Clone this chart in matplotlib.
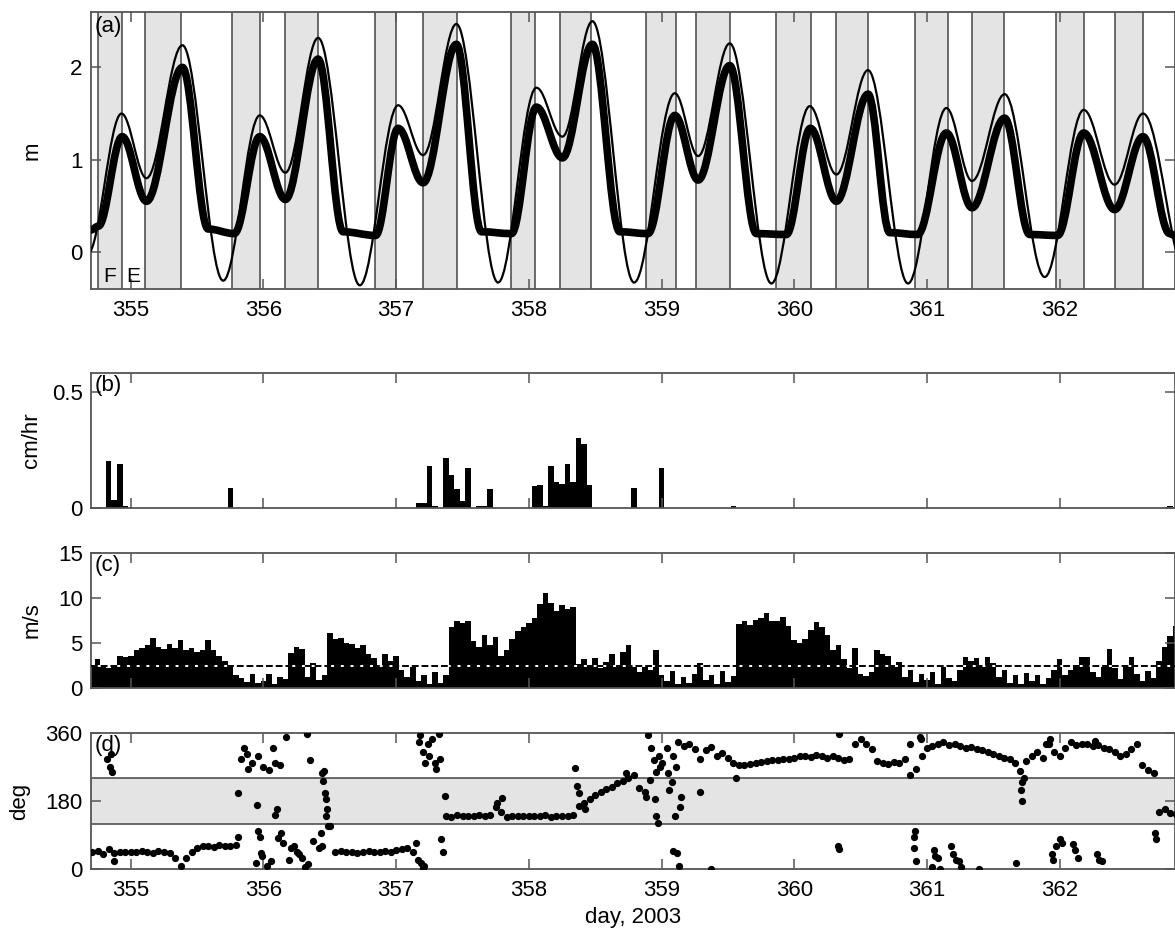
import numpy as np
import matplotlib
matplotlib.use("Agg")
import matplotlib.pyplot as plt
from matplotlib.path import Path
from matplotlib.patches import PathPatch

plt.rcParams['font.family'] = ['Liberation Sans', 'DejaVu Sans']

# ---- (a) water level: highs/lows of predicted and observed tide (day, m)
pred_day = [354.675, 354.930, 355.118, 355.389, 355.696, 355.972, 356.165, 356.412,
            356.726, 357.015, 357.203, 357.454, 357.768, 358.057, 358.253, 358.479,
            358.793, 359.100, 359.276, 359.514, 359.828, 360.117, 360.318, 360.556,
            360.858, 361.147, 361.340, 361.586, 361.888, 362.182, 362.415, 362.629,
            362.970]
pred_m = [-0.02, 1.50, 0.80, 2.24, -0.31, 1.48, 0.86, 2.32,
          -0.36, 1.59, 1.05, 2.47, -0.33, 1.78, 1.25, 2.50,
          -0.33, 1.72, 1.04, 2.26, -0.34, 1.58, 0.84, 1.97,
          -0.34, 1.56, 0.77, 1.71, -0.27, 1.54, 0.73, 1.50,
          -0.30]

# observed level (gauge dries out near 0.2 m at low water)
obs_day = [354.700, 354.755, 354.935, 355.118, 355.389, 355.583, 355.780, 355.972,
           356.165, 356.412, 356.600, 356.845, 357.015, 357.203, 357.454, 357.643,
           357.869, 358.057, 358.253, 358.479, 358.685, 358.898, 359.100, 359.276,
           359.514, 359.715, 359.941, 360.122, 360.318, 360.557, 360.720, 360.930,
           361.147, 361.340, 361.586, 361.775, 361.985, 362.182, 362.415, 362.629,
           362.830, 362.870]
obs_m = [0.24, 0.28, 1.25, 0.55, 2.00, 0.25, 0.20, 1.25,
         0.57, 2.09, 0.22, 0.18, 1.34, 0.75, 2.25, 0.22,
         0.20, 1.57, 1.02, 2.25, 0.22, 0.20, 1.48, 0.78,
         2.02, 0.20, 0.19, 1.34, 0.55, 1.71, 0.21, 0.19,
         1.29, 0.48, 1.45, 0.19, 0.18, 1.29, 0.46, 1.25,
         0.20, 0.18]

# flood periods (shaded)
flood_start = [354.754, 355.106, 355.766, 356.160, 356.839, 357.203, 357.869, 358.238,
               358.886, 359.258, 359.861, 360.318, 360.908, 361.340, 361.976, 362.420]
flood_end = [354.930, 355.382, 355.972, 356.412, 357.002, 357.455, 358.050, 358.472,
             359.107, 359.519, 360.127, 360.557, 361.159, 361.579, 362.182, 362.629]

# ---- (b) hourly rainfall, cm/hr
rain_day = [354.833, 354.875, 354.917, 354.958, 355.750,
            357.167, 357.208, 357.250, 357.292, 357.375, 357.417, 357.458, 357.500,
            357.542, 357.625, 357.667, 357.708,
            358.042, 358.083, 358.125, 358.167, 358.208, 358.250, 358.292, 358.333,
            358.375, 358.417, 358.458, 358.792, 359.000, 359.542, 362.833]
rain_cm = [0.20, 0.035, 0.19, 0.01, 0.085,
           0.02, 0.02, 0.18, 0.01, 0.215, 0.142, 0.083, 0.028,
           0.171, 0.007, 0.007, 0.083,
           0.095, 0.10, 0.01, 0.18, 0.11, 0.105, 0.19, 0.11,
           0.30, 0.276, 0.10, 0.085, 0.17, 0.008, 0.008]

# ---- (c) hourly wind speed, m/s, starting 354 + 17 h
wind_ms = [
    2.4, 3.2, 2.6, 2.2, 2.5, 3.6, 3.4,                                       # 354
    3.6, 4.2, 4.5, 4.8, 5.6, 4.6, 4.3, 4.9, 4.4, 5.3, 4.2, 4.5,
    4.0, 4.2, 5.3, 4.2, 3.6, 3.0, 2.6, 1.5, 1.1, 0.7, 1.6, 0.6,              # 355
    0.8, 1.6, 0.4, 1.2, 1.0, 3.9, 4.6, 4.3, 1.2, 2.8, 0.9, 1.5,
    6.1, 5.4, 5.6, 5.0, 4.9, 4.5, 4.8, 3.8, 3.3, 2.6, 3.8, 3.0,              # 356
    3.6, 2.0, 1.2, 2.3, 0.8, 1.4, 0.5, 1.8, 0.6, 1.5, 6.8, 7.4,
    7.2, 7.4, 5.2, 4.6, 5.9, 4.8, 5.7, 3.6, 4.2, 5.5, 6.3, 6.8,              # 357
    7.2, 7.8, 9.3, 10.6, 9.5, 8.6, 9.2, 8.8, 9.0, 2.7, 3.2, 2.5,
    3.3, 2.2, 2.9, 3.8, 2.6, 4.0, 4.8, 2.3, 1.8, 2.4, 2.0, 4.2,              # 358
    1.5, 0.8, 1.9, 0.4, 1.2, 0.6, 1.6, 2.8, 0.9, 1.4, 0.5, 1.9,
    0.7, 1.3, 7.1, 7.4, 7.0, 7.6, 7.8, 8.3, 7.4, 7.5, 7.9, 6.9,              # 359
    5.3, 5.0, 5.5, 6.4, 7.3, 6.8, 5.9, 4.2, 4.8, 3.2, 2.2, 4.5,
    1.6, 1.3, 1.8, 4.2, 3.8, 3.6, 2.4, 2.9, 1.2, 2.0, 0.7, 1.6,              # 360
    0.9, 1.8, 0.5, 2.4, 1.1, 0.8, 2.0, 3.4, 3.0, 3.3, 2.6, 3.5,
    2.8, 1.2, 2.0, 0.6, 1.4, 0.4, 1.7, 0.8, 1.5, 0.5, 1.1, 2.0,              # 361
    3.2, 1.5, 2.0, 2.6, 3.5, 3.4, 1.8, 1.2, 2.3, 4.3, 2.2, 1.0,
    2.4, 3.5, 1.6, 0.8, 1.9, 1.1, 3.0, 4.6, 5.8, 6.9,                        # 362
]
wind_ref = 2.5

# ---- (d) hourly wind direction, deg, same hours as wind speed
wind_deg = [
    45, 48, 40, 52, 42, 46, 44,
    46, 44, 48, 45, 43, 47, 44, 42, 30, 8, 28, 45,
    55, 60, 62, 58, 64, 62, 60, 64, 290, 305, 280, 300,
    270, 262, 280, 275, 350, 55, 45, 30, 12, 75, 55, 260,
    115, 45, 48, 44, 46, 43, 45, 47, 44, 46, 48, 45,
    50, 52, 55, 45, 25, 8, 300, 280, 290, 140, 138, 142,
    140, 139, 141, 143, 140, 142, 165, 150, 138, 141, 139, 140,
    141, 139, 140, 142, 138, 140, 141, 139, 142, 200, 175, 185,
    195, 205, 212, 218, 228, 232, 240, 250, 215, 205, 235, 258,
    280, 320, 300, 335, 325, 330, 318, 290, 315, 322, 300, 308,
    295, 280, 275, 276, 279, 281, 283, 286, 288, 289, 290, 292,
    295, 298, 300, 296, 302, 298, 295, 300, 293, 288, 290, 330,
    345, 330, 318, 285, 280, 278, 282, 280, 290, 330, 265, 345,
    320, 325, 330, 335, 328, 332, 325, 320, 322, 318, 315, 310,
    305, 300, 295, 290, 280, 210, 285, 300, 310, 295, 330, 310,
    300, 320, 335, 328, 332, 330, 325, 328, 320, 318, 310, 300,
    305, 318, 330, 275, 262, 255, 150, 160, 148, 145,
]
# scattered readings between the hourly ones
extra_day = [354.82, 354.84, 354.85, 354.86, 354.87,
             355.81, 355.81, 355.85, 355.88, 355.95, 355.94, 355.96, 355.97, 355.98, 355.99, 356.03,
             356.06, 356.07, 356.09, 356.10, 356.11, 356.13, 356.15, 356.19, 356.23, 356.27, 356.31,
             356.33, 356.35, 356.43, 356.44, 356.44, 356.45, 356.46, 356.47, 356.47, 356.48, 356.49,
             357.15, 357.17, 357.18, 357.19, 357.20, 357.20, 357.22, 357.24, 357.27, 357.30, 357.32,
             357.34, 357.35, 357.37, 357.76, 357.80,
             358.35, 358.36, 358.38, 358.42, 358.73, 358.88, 358.90, 358.92, 358.94, 358.95, 358.96,
             358.97, 358.98, 358.99,
             359.05, 359.06, 359.08, 359.09, 359.10, 359.11, 359.12, 359.13, 359.14, 359.15, 359.29,
             359.37, 359.56,
             360.33, 360.34, 360.34, 360.87, 360.90, 360.90, 360.91, 360.92, 360.95, 360.96,
             361.04, 361.05, 361.06, 361.08, 361.10, 361.18, 361.20, 361.22, 361.24, 361.26, 361.39,
             361.67, 361.70, 361.72, 361.72, 361.73,
             361.90, 361.93, 361.94, 361.95, 361.97, 362.00, 362.02, 362.10, 362.12, 362.14, 362.27,
             362.28, 362.30, 362.32, 362.72, 362.73]
extra_deg = [290, 270, 305, 258, 20,
             201, 86, 320, 265, 170, 16, 100, 86, 42, 34, 8,
             20, 320, 144, 160, 82, 95, 70, 25, 60, 40, 5,
             358, 289, 95, 60, 254, 232, 200, 185, 139, 160, 115,
             70, 335, 355, 15, 3, 310, 280, 330, 345, 265, 358,
             80, 45, 192, 175, 188,
             267, 219, 166, 158, 255, 190, 355, 320, 289, 184, 140,
             122, 300, 270,
             255, 210, 230, 47, 140, 270, 42, 7, 165, 190, 205,
             0, 241,
             60, 52, 357, 250, 85, 55, 100, 20, 350, 300,
             5, 50, 35, 30, 0, 60, 40, 25, 20, 5, 0,
             16, 260, 230, 180, 240,
             330, 345, 40, 25, 60, 80, 70, 65, 50, 30, 340,
             40, 25, 20, 95, 80]

day_ticks = [355, 356, 357, 358, 359, 360, 361, 362]
xlim = (354.70, 362.87)

hour0 = 354 + 17 / 24
wind_day = hour0 + np.arange(len(wind_ms)) / 24
dir_day = hour0 + np.arange(len(wind_deg)) / 24

SHADE = '#e4e4e4'
FRAME = '#555555'


def tide_path(days, heights, k=0.36):
    # smooth curve through successive highs and lows (flat at each turning point)
    verts = [(days[0], heights[0])]
    codes = [Path.MOVETO]
    for t0, h0, t1, h1 in zip(days[:-1], heights[:-1], days[1:], heights[1:]):
        dt = t1 - t0
        verts += [(t0 + k * dt, h0), (t1 - k * dt, h1), (t1, h1)]
        codes += [Path.CURVE4] * 3
    return Path(verts, codes)


def style(ax, yticks, ylim, ylabel, tag, labels=False, yfmt=None):
    ax.set_xlim(*xlim)
    ax.set_ylim(*ylim)
    ax.set_xticks(day_ticks)
    ax.set_yticks(yticks)
    if yfmt is not None:
        ax.set_yticklabels(yfmt)
    ax.tick_params(direction='in', top=True, right=True, length=7, width=1.1,
                   color=FRAME, labelsize=16, pad=6)
    ax.tick_params(axis='x', pad=8)
    if not labels:
        ax.tick_params(axis='x', labelbottom=False)
    for s in ax.spines.values():
        s.set_color(FRAME)
        s.set_linewidth(1.3)
    ax.set_ylabel(ylabel, fontsize=16)
    ax.text(0.003, 0.985, tag, transform=ax.transAxes, ha='left', va='top',
            fontsize=16, zorder=10)


fig = plt.figure(figsize=(11.75, 9.33), dpi=100)
W, H = 1175, 933
left = 91 / W
width = 1 - left
ax_a = fig.add_axes([left, 1 - 289 / H, width, (289 - 12) / H])
ax_b = fig.add_axes([left, 1 - 508 / H, width, (508 - 373) / H])
ax_c = fig.add_axes([left, 1 - 688 / H, width, (688 - 553) / H])
ax_d = fig.add_axes([left, 1 - 869 / H, width, (869 - 733) / H])

# (a) tide
for t0, t1 in zip(flood_start, flood_end):
    ax_a.axvspan(t0, t1, color=SHADE, lw=0, zorder=0)
for t in flood_start + flood_end:
    ax_a.axvline(t, color='#444444', lw=1.1, zorder=1)
ax_a.add_patch(PathPatch(tide_path(obs_day, obs_m), fill=False, ec='k', lw=5.5,
                         joinstyle='round', capstyle='round', zorder=3))
ax_a.add_patch(PathPatch(tide_path(pred_day, pred_m), fill=False, ec='k', lw=1.6,
                         zorder=4))
ax_a.text(354.842, -0.26, 'F', ha='center', va='center', fontsize=15)
ax_a.text(355.018, -0.26, 'E', ha='center', va='center', fontsize=15)
style(ax_a, [0, 1, 2], (-0.4, 2.6), 'm', '(a)', labels=True)

# (b) rainfall
ax_b.bar(rain_day, rain_cm, width=1 / 24, color='k', lw=0)
style(ax_b, [0, 0.5], (0, 0.58), 'cm/hr', '(b)', yfmt=['0', '0.5'])

# (c) wind speed
ax_c.bar(wind_day, wind_ms, width=1 / 24, color='k', lw=0)
ax_c.axhline(wind_ref, color='white', lw=1.4, zorder=3)
ax_c.axhline(wind_ref, color='k', lw=1.4, ls=(0, (3.5, 1.5)), zorder=4)
style(ax_c, [0, 5, 10, 15], (0, 15), 'm/s', '(c)')

# (d) wind direction
ax_d.axhspan(120, 240, color=SHADE, lw=0, zorder=0)
ax_d.axhline(120, color='#444444', lw=1.1, zorder=1)
ax_d.axhline(240, color='#444444', lw=1.1, zorder=1)
ax_d.plot(dir_day, wind_deg, 'o', ms=4.2, color='k', zorder=3)
ax_d.plot(extra_day, extra_deg, 'o', ms=4.2, color='k', zorder=3)
style(ax_d, [0, 180, 360], (0, 360), 'deg', '(d)', labels=True)
ax_d.set_xlabel('day, 2003', fontsize=16, labelpad=4)

for ax in (ax_a, ax_b, ax_c):
    ax.yaxis.set_label_coords(-0.045, 0.5)
ax_d.yaxis.set_label_coords(-0.056, 0.5)

fig.savefig('out.png', dpi=100)
